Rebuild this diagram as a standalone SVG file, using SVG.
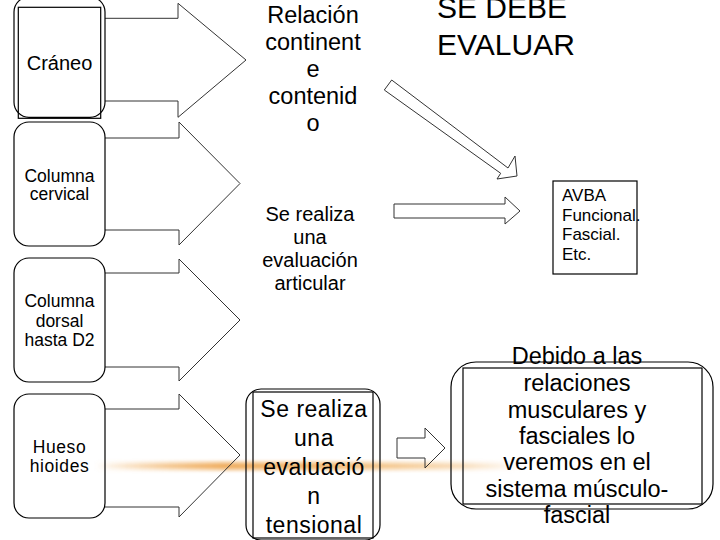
<svg xmlns="http://www.w3.org/2000/svg" width="720" height="540" viewBox="0 0 720 540">
<style>
  .box{fill:none;stroke:#000;stroke-width:1.2}
  .arr{fill:none;stroke:#333;stroke-width:1}
  .t{font-family:"Liberation Sans",Arial,sans-serif;fill:#000;text-anchor:middle}
  .l{font-family:"Liberation Sans",Arial,sans-serif;fill:#000}
</style>
<defs>
  <linearGradient id="glow" x1="0" y1="0" x2="1" y2="0">
    <stop offset="0" stop-color="#f0b060" stop-opacity="0"/>
    <stop offset="0.3" stop-color="#eea855" stop-opacity="0.9"/>
    <stop offset="0.55" stop-color="#f0b060" stop-opacity="0.8"/>
    <stop offset="0.85" stop-color="#f3c080" stop-opacity="0.4"/>
    <stop offset="1" stop-color="#f5d0a0" stop-opacity="0"/>
  </linearGradient>
  <filter id="blur" x="-0.1" y="-2" width="1.2" height="5">
    <feGaussianBlur stdDeviation="1.8"/>
  </filter>
</defs>
<rect width="720" height="540" fill="#fff"/>
<g id="glow-line" filter="url(#blur)">
  <rect x="95" y="461" width="430" height="10" fill="url(#glow)" opacity="0.6"/>
  <rect x="95" y="464" width="430" height="4" fill="url(#glow)"/>
</g>

<g id="connectors">
  <polyline class="arr" points="105,18.3 178,18.3 178,3.3 246,60 178,117.3 178,101 105,101"/>
  <polyline class="arr" points="105,138 179,138 179,122 240,183.5 179,245 179,230 105,230"/>
  <polyline class="arr" points="105,273 179,273 179,259 240,320 179,381 179,367 105,367"/>
  <polyline class="arr" points="105,409 179,409 179,394 240,455 179,517 179,507 105,507"/>
  <polygon class="arr" points="391.7,80 508,168 515,156 517,176 497,179 500.7,173.3 384.3,90"/>
  <polygon class="arr" points="394,204 505,204 505,197 520,211 505,224 505,218 394,218"/>
  <polygon class="arr" points="397,438 425,438 425,428 445,448 425,468 425,458 397,458"/>
</g>

<g id="node-craneo">
  <rect class="box" x="14" y="-3" width="91" height="120.3" rx="15"/>
  <rect class="box" x="18.3" y="7.3" width="82.4" height="111"/>
  <text class="t" x="59.5" y="70" font-size="20">Cráneo</text>
</g>
<g id="node-cervical">
  <rect class="box" x="14" y="122" width="91" height="124" rx="15"/>
  <text class="t" x="59.5" y="181.5" font-size="17.5">Columna</text>
  <text class="t" x="59.5" y="199.5" font-size="17.5">cervical</text>
</g>
<g id="node-dorsal">
  <rect class="box" x="14" y="258" width="91" height="124" rx="15"/>
  <text class="t" x="59.5" y="307" font-size="17.5">Columna</text>
  <text class="t" x="59.5" y="326.5" font-size="17.5">dorsal</text>
  <text class="t" x="59.5" y="346" font-size="17.5">hasta D2</text>
</g>
<g id="node-hioides">
  <rect class="box" x="14" y="394" width="91" height="124" rx="15"/>
  <text class="t" x="59.5" y="453.3" font-size="17.5" letter-spacing="0.6">Hueso</text>
  <text class="t" x="59.5" y="472.3" font-size="17.5" letter-spacing="0.6">hioides</text>
</g>

<g id="node-relacion">
  <text class="t" x="313" y="22.5" font-size="23.5">Relación</text>
  <text class="t" x="313" y="49.5" font-size="23.5">continent</text>
  <text class="t" x="313" y="76.5" font-size="23.5">e</text>
  <text class="t" x="313" y="103.5" font-size="23.5">contenid</text>
  <text class="t" x="313" y="130.5" font-size="23.5">o</text>
</g>
<g id="node-articular">
  <text class="t" x="310" y="220.7" font-size="20">Se realiza</text>
  <text class="t" x="310" y="243.7" font-size="20">una</text>
  <text class="t" x="310" y="266.7" font-size="20">evaluación</text>
  <text class="t" x="310" y="289.7" font-size="20">articular</text>
</g>
<g id="node-sedebe">
  <text class="l" x="437" y="18" font-size="30">SE DEBE</text>
  <text class="l" x="437" y="54.5" font-size="30">EVALUAR</text>
</g>
<g id="node-avba">
  <rect class="box" x="553" y="181" width="84" height="93"/>
  <text class="l" x="562" y="201" font-size="17">AVBA</text>
  <text class="l" x="562" y="220.5" font-size="17">Funcional.</text>
  <text class="l" x="562" y="240" font-size="17">Fascial.</text>
  <text class="l" x="562" y="259.5" font-size="17">Etc.</text>
</g>
<g id="node-tensional">
  <rect class="box" x="246" y="389" width="134" height="151" rx="15"/>
  <rect class="box" x="253" y="392" width="120" height="146"/>
  <text class="t" x="314" y="416.7" font-size="23" letter-spacing="0.5">Se realiza</text>
  <text class="t" x="314" y="445.7" font-size="23" letter-spacing="0.5">una</text>
  <text class="t" x="314" y="474.7" font-size="23" letter-spacing="0.5">evaluació</text>
  <text class="t" x="314" y="503.7" font-size="23" letter-spacing="0.5">n</text>
  <text class="t" x="314" y="532.7" font-size="23" letter-spacing="0.5">tensional</text>
</g>
<g id="node-debido">
  <rect class="box" x="451" y="362" width="262" height="147" rx="25"/>
  <rect class="box" x="463" y="368" width="239" height="136"/>
  <text class="t" x="577" y="364" font-size="23.5">Debido a las</text>
  <text class="t" x="577" y="391" font-size="23.5">relaciones</text>
  <text class="t" x="577" y="418" font-size="23.5">musculares y</text>
  <text class="t" x="577" y="444" font-size="23.5">fasciales lo</text>
  <text class="t" x="577" y="470" font-size="23.5">veremos en el</text>
  <text class="t" x="577" y="497" font-size="23.5">sistema músculo-</text>
  <text class="t" x="577" y="523" font-size="23.5">fascial</text>
</g>
</svg>
